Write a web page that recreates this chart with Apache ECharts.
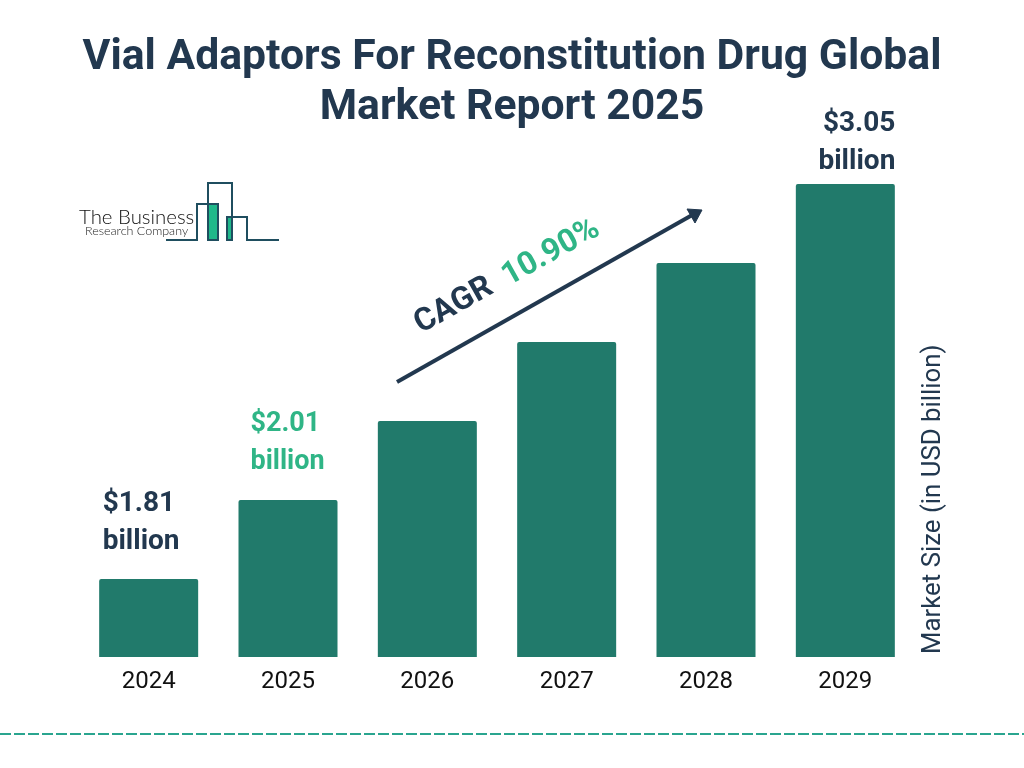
<!DOCTYPE html>
<html>
<head>
<meta charset="utf-8">
<title>Vial Adaptors For Reconstitution Drug Global Market Report 2025</title>
<script src="https://cdn.jsdelivr.net/npm/echarts@6/dist/echarts.min.js"></script>
<style>
html, body { margin: 0; padding: 0; background: #fff; }
#chart { width: 1024px; height: 768px; }
</style>
</head>
<body>
<div id="chart"></div>
<script>
var years = ['2024', '2025', '2026', '2027', '2028', '2029'];
// bar heights, the steps are even in the original
var marketSize = [1.81, 2.058, 2.306, 2.554, 2.802, 3.05];
var valueLabels = ['$1.81\nbillion', '$2.01\nbillion', '', '', '', '$3.05\nbillion'];

var navy = '#22384f';
var green = '#2fb586';
var barColor = '#217a6b';
var logoColor = '#1f4e5f';

var labelStyles = {
    0: { color: navy, align: 'left', size: 28, offset: [-46, -13] },
    1: { color: green, align: 'left', size: 27, offset: [-37.5, -14] },
    5: { color: navy, align: 'right', size: 28, offset: [50, 2] }
};

var barData = [];
for (var i = 0; i < marketSize.length; i++) {
    var item = { value: marketSize[i] };
    if (valueLabels[i]) {
        item.label = {
            show: true,
            position: 'top',
            formatter: valueLabels[i],
            fontFamily: 'Roboto',
            fontSize: labelStyles[i].size,
            fontWeight: 'bold',
            lineHeight: 38,
            color: labelStyles[i].color,
            align: labelStyles[i].align,
            offset: labelStyles[i].offset
        };
    }
    barData.push(item);
}

var myChart = echarts.init(document.getElementById('chart'), null, { renderer: 'canvas' });

var option = {
    backgroundColor: '#ffffff',
    animation: false,
    title: {
        text: 'Vial Adaptors For Reconstitution Drug Global\nMarket Report 2025',
        left: 507,
        top: 28,
        textAlign: 'center',
        textStyle: {
            fontFamily: 'Roboto',
            fontSize: 42.7,
            fontWeight: 'bold',
            lineHeight: 50,
            color: navy
        }
    },
    grid: { left: 79, right: 109, top: 184, bottom: 111 },
    xAxis: {
        type: 'category',
        data: years,
        axisLine: { show: false },
        axisTick: { show: false },
        axisLabel: { fontFamily: 'Roboto', fontSize: 24, color: '#111111', margin: 13 }
    },
    yAxis: {
        type: 'value',
        min: 1.565,
        max: 3.05,
        show: false
    },
    series: [{
        type: 'bar',
        data: barData,
        barWidth: 99,
        itemStyle: { color: barColor, borderRadius: [2, 2, 0, 0] }
    }],
    graphic: [
        // y axis caption
        {
            type: 'text', x: 934, y: 654, rotation: Math.PI / 2,
            style: { text: 'Market Size (in USD billion)', fontFamily: 'Roboto', fontSize: 25.8, fill: navy, align: 'left', verticalAlign: 'middle' }
        },
        // CAGR arrow
        {
            type: 'line',
            shape: { x1: 397, y1: 382, x2: 694, y2: 214 },
            style: { stroke: navy, lineWidth: 4 }
        },
        {
            type: 'polygon',
            shape: { points: [[687, 209], [702, 210], [695, 223]] },
            style: { fill: navy, stroke: navy, lineWidth: 1, lineJoin: 'round' }
        },
        {
            type: 'text', x: 454, y: 306, rotation: 0.51,
            style: { text: 'CAGR', fontFamily: 'Roboto', fontSize: 32, fontWeight: 'bold', fill: navy, align: 'center', verticalAlign: 'middle' }
        },
        {
            type: 'text', x: 551, y: 253, rotation: 0.51,
            style: { text: '10.90%', fontFamily: 'Roboto', fontSize: 32, fontWeight: 'bold', fill: green, align: 'center', verticalAlign: 'middle' }
        },
        // logo
        { type: 'rect', shape: { x: 209, y: 204, width: 9, height: 36 }, style: { fill: '#1fb88a' } },
        { type: 'rect', shape: { x: 227, y: 217, width: 5, height: 23 }, style: { fill: '#1fb88a' } },
        {
            type: 'polyline',
            shape: {
                points: [[166, 240], [197, 240], [197, 204], [218, 204], [218, 240], [208, 240], [208, 183], [232, 183], [232, 240], [227, 240], [227, 217], [247, 217], [247, 240], [279, 240]]
            },
            style: { stroke: logoColor, lineWidth: 2, fill: null }
        },
        {
            type: 'text', x: 79, y: 217,
            style: { text: 'The Business', fontFamily: 'Lato', fontSize: 20.4, fontWeight: 300, fill: '#111111', align: 'left', verticalAlign: 'middle' }
        },
        {
            type: 'text', x: 85, y: 231,
            style: { text: 'Research Company', fontFamily: 'Lato', fontSize: 12.5, fontWeight: 300, fill: '#222222', align: 'left', verticalAlign: 'middle' }
        },
        // footer rule
        {
            type: 'line',
            shape: { x1: 0, y1: 734, x2: 1024, y2: 734 },
            style: { stroke: '#2aa58f', lineWidth: 2, lineDash: [11, 3] }
        }
    ]
};

myChart.setOption(option);
</script>
</body>
</html>
